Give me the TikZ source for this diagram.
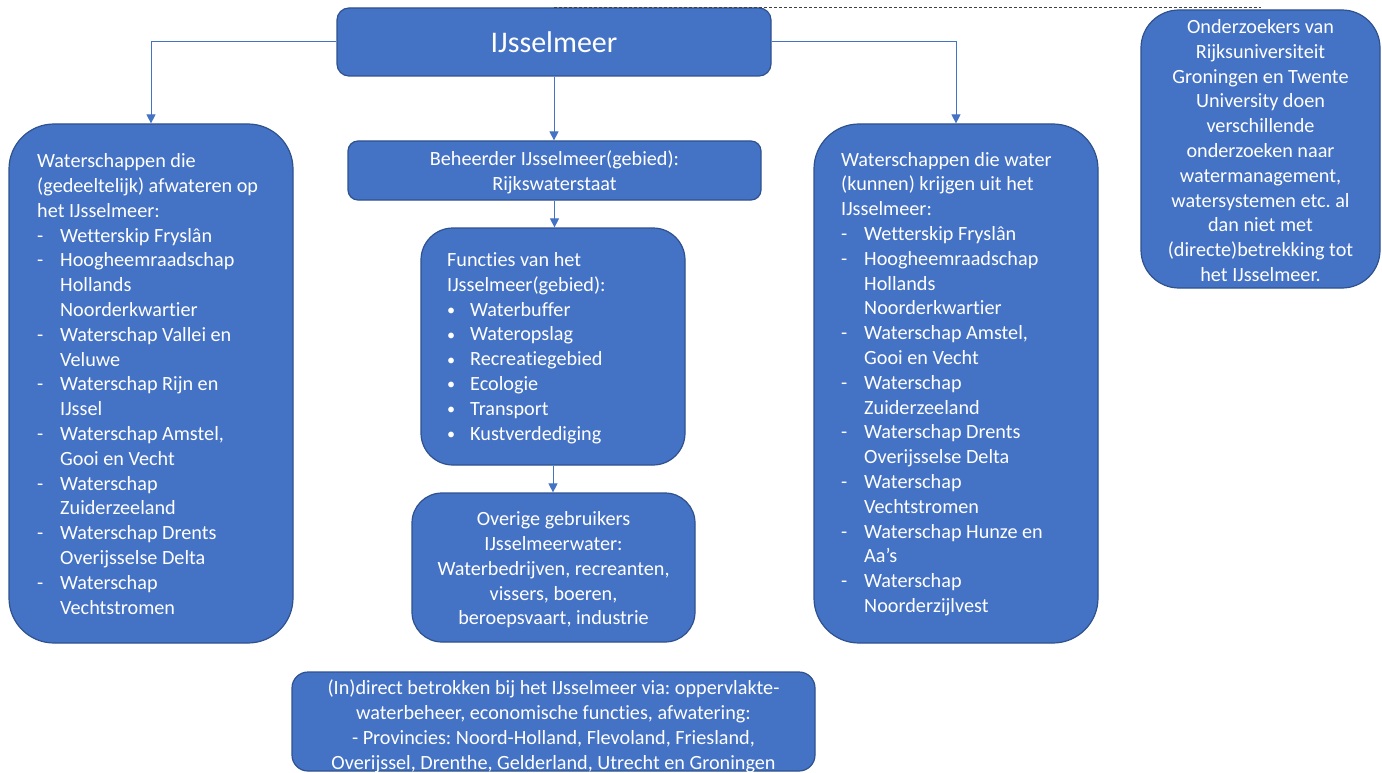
\documentclass[tikz,border=0pt]{standalone}
\usepackage{fontspec}
\setmainfont{Carlito}[Ligatures={NoCommon}]
\usetikzlibrary{arrows.meta}
\definecolor{boxfill}{HTML}{4472C4}
\definecolor{boxline}{HTML}{2F528F}
\definecolor{dashgray}{HTML}{404040}
\frenchspacing
\newcommand{\dashitem}[1]{\makebox[23pt][l]{-}#1}
\newcommand{\contline}[1]{\hspace*{23pt}#1}
\newcommand{\bulitem}[1]{\makebox[23pt][l]{\raisebox{0.5pt}{\scalebox{0.8}{•}}}#1}
\begin{document}
\begin{tikzpicture}[x=1pt,y=-1pt,
  box/.style={draw=boxline, line width=1.2pt, fill=boxfill, rounded corners=#1, inner sep=0pt},
  box/.default=10pt,
  txt/.style={text=white, inner sep=0pt, font=\fontsize{20.2}{24.8}\selectfont\frenchspacing},
  conn/.style={draw=boxfill, line width=1pt, -{Triangle[length=9pt,width=9pt]}},
]
\useasboundingbox (0,0) rectangle (1382,773);

% boxes
\node[box=12pt, minimum width=434pt, minimum height=68pt] (ijssel) at (554,42) {};
\node[box=10pt, minimum width=413pt, minimum height=59pt] (beh) at (554.5,170.5) {};
\node[box=32pt, minimum width=264pt, minimum height=237pt] (func) at (553,346.5) {};
\node[box=30pt, minimum width=283pt, minimum height=149pt] (over) at (553.5,567.5) {};
\node[box=16pt, minimum width=523pt, minimum height=99pt] (bottom) at (553.5,721.5) {};
\node[box=45pt, minimum width=284pt, minimum height=519pt] (left) at (151,383.5) {};
\node[box=45pt, minimum width=284pt, minimum height=519pt] (right) at (956,383.5) {};
\node[box=38pt, minimum width=239pt, minimum height=278pt] (onder) at (1260.5,149) {};

% connectors
\draw[conn] (ijssel.west) -| (left.north);
\draw[conn] (ijssel.east) -| (right.north);
\draw[conn] (ijssel.south) -- (ijssel.south |- beh.north);
\draw[conn] (beh.south) -- (beh.south |- func.north);
\draw[conn] (func.south) -- (func.south |- over.north);
\draw[dashgray, line width=1.2pt, dash pattern=on 3pt off 2pt] (ijssel.north) -- (ijssel.north -| onder.north);

% texts
\node[txt, font=\fontsize{30}{36}\selectfont] (t0) at (ijssel.center) {IJsselmeer};

\node[txt, align=center] (tbeh) at (554.5,172.5) {Beheerder IJsselmeer(gebied):\\Rijkswaterstaat};

\node[txt, align=left, anchor=west] (tfunc) at (447,348) {Functies van het\\IJsselmeer(gebied):\\
\bulitem{Waterbuffer}\\\bulitem{Wateropslag}\\\bulitem{Recreatiegebied}\\\bulitem{Ecologie}\\\bulitem{Transport}\\\bulitem{Kustverdediging}};

\node[txt, align=center] (tover) at (553.5,570) {Overige gebruikers\\IJsselmeerwater:\\Waterbedrijven, recreanten,\\vissers, boeren,\\beroepsvaart, industrie};

\node[txt, align=center] (tbottom) at (553.5,726.5) {(In)direct betrokken bij het IJsselmeer via: oppervlakte-\\waterbeheer, economische functies, afwatering:\\- Provincies: Noord-Holland, Flevoland, Friesland,\\Overijssel, Drenthe, Gelderland, Utrecht en Groningen};

\node[txt, align=left, anchor=west] (tleft) at (37,384) {Waterschappen die\\(gedeeltelijk) afwateren op\\het IJsselmeer:\\
\dashitem{Wetterskip Fryslân}\\\dashitem{Hoogheemraadschap}\\\contline{Hollands}\\\contline{Noorderkwartier}\\
\dashitem{Waterschap Vallei en}\\\contline{Veluwe}\\\dashitem{Waterschap Rijn en}\\\contline{IJssel}\\
\dashitem{Waterschap Amstel,}\\\contline{Gooi en Vecht}\\\dashitem{Waterschap}\\\contline{Zuiderzeeland}\\
\dashitem{Waterschap Drents}\\\contline{Overijsselse Delta}\\\dashitem{Waterschap}\\\contline{Vechtstromen}};

\node[txt, align=left, anchor=west] (tright) at (841,384) {Waterschappen die water\\(kunnen) krijgen uit het\\IJsselmeer:\\
\dashitem{Wetterskip Fryslân}\\\dashitem{Hoogheemraadschap}\\\contline{Hollands}\\\contline{Noorderkwartier}\\
\dashitem{Waterschap Amstel,}\\\contline{Gooi en Vecht}\\\dashitem{Waterschap}\\\contline{Zuiderzeeland}\\
\dashitem{Waterschap Drents}\\\contline{Overijsselse Delta}\\\dashitem{Waterschap}\\\contline{Vechtstromen}\\
\dashitem{Waterschap Hunze en}\\\contline{Aa’s}\\\dashitem{Waterschap}\\\contline{Noorderzijlvest}};

\node[txt, align=center] (tonder) at (1260.5,150.5) {Onderzoekers van\\Rijksuniversiteit\\Groningen en Twente\\University doen\\verschillende\\onderzoeken naar\\watermanagement,\\watersystemen etc. al\\dan niet met\\(directe)betrekking tot\\het IJsselmeer.};
\end{tikzpicture}
\end{document}
